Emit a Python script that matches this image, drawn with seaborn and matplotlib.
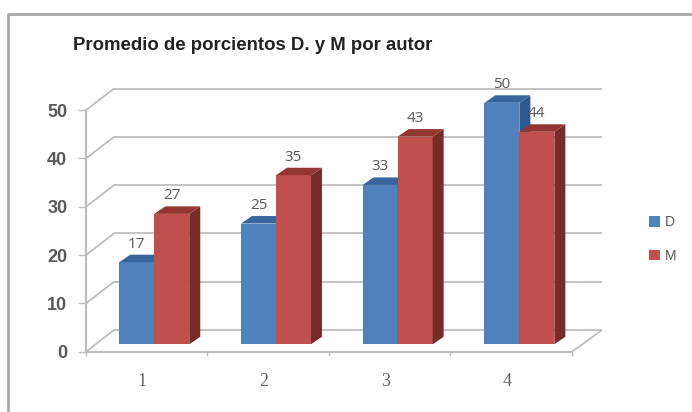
import matplotlib
matplotlib.use("Agg")
import matplotlib.pyplot as plt
import pandas as pd
import seaborn as sns
from matplotlib.lines import Line2D
from matplotlib.patches import Polygon

autores = ["1", "2", "3", "4"]
valoresD = [17, 25, 33, 50]
valoresM = [27, 35, 43, 44]
yTicks = [0, 10, 20, 30, 40, 50]

colorFront = {"D": "#4F81BD", "M": "#C0504D"}
colorSide = {"D": "#2C5A91", "M": "#772C2A"}
colorTop = {"D": "#38659C", "M": "#943634"}
gridColor = "#BDBDBD"

W, H = 692, 412

sns.set_style("white")
plt.rcParams["font.family"] = ["Liberation Sans", "DejaVu Sans"]

df = pd.DataFrame({
    "autor": autores * 2,
    "valor": valoresD + valoresM,
    "serie": ["D"] * 4 + ["M"] * 4
})

fig = plt.figure(figsize=(W / 100, H / 100), dpi=100)
ax = fig.add_axes([86 / W, 1 - 360 / H, (602 - 86) / W, 280 / H])
ax.patch.set_alpha(0)

sns.barplot(data=df, x="autor", y="valor", hue="serie", palette=colorFront, width=0.575,
            gap=0, saturation=1, linewidth=0, ax=ax)

# one category is 121.7 px wide, one value unit 4.83 px high
xLeft, xRight = -0.561, 3.679
ax.set_xlim(xLeft, xRight)
ax.set_ylim(-3.25, 54.72)

frontOff, backOff = -1.53, 2.95
frontRight = 3.432
backLeft = xLeft + 28 / 121.7

# back wall and side wall lines
for v in yTicks:
    ax.plot([backLeft, xRight], [v + backOff, v + backOff], color=gridColor, lw=1.3, zorder=1,
            clip_on=False, solid_capstyle="butt")
    ax.plot([xLeft, backLeft], [v + frontOff, v + backOff], color=gridColor, lw=1.3, zorder=1,
            clip_on=False)
ax.plot([frontRight, xRight], [frontOff, backOff], color=gridColor, lw=1.3, zorder=1)

# fake 3d depth on each bar
depthX, depthY = 11 / 121.7, 7.5 / 4.83
for container, serie, z in zip(ax.containers, ["D", "M"], [3, 4]):
    for bar in container:
        x0, x1 = bar.get_x(), bar.get_x() + bar.get_width()
        h = bar.get_height()
        bar.set_zorder(z)
        ax.add_patch(Polygon([(x1, 0), (x1 + depthX, depthY), (x1 + depthX, h + depthY), (x1, h)],
                             closed=True, fc=colorSide[serie], lw=0, zorder=z))
        ax.add_patch(Polygon([(x0, h), (x0 + depthX, h + depthY), (x1 + depthX, h + depthY), (x1, h)],
                             closed=True, fc=colorTop[serie], lw=0, zorder=z))
    labels = ax.bar_label(container, padding=7.5, fontsize=11, color="#595959", family="Open Sans")
    for label in labels:
        label.set_zorder(6)

for side in ["top", "right"]:
    ax.spines[side].set_visible(False)
for side in ["left", "bottom"]:
    ax.spines[side].set_color(gridColor)
    ax.spines[side].set_linewidth(1.6)
ax.spines["bottom"].set_position(("data", frontOff))
ax.spines["bottom"].set_bounds(xLeft, frontRight)
ax.spines["left"].set_bounds(frontOff, yTicks[-1] + frontOff)

ax.set_yticks([v + frontOff for v in yTicks])
ax.set_yticklabels([str(v) for v in yTicks], fontsize=13, fontweight="bold", color="#595959")
ax.tick_params(axis="y", left=True, length=5.5, width=1, color=gridColor, pad=8)

ax.set_xticks([i - 0.1 for i in range(len(autores))])
ax.set_xticklabels(autores, fontsize=13, color="#666666", family="Liberation Serif")
ax.tick_params(axis="x", bottom=False, length=0, pad=15.5)
ax.set_xticks([xLeft + i * (frontRight - xLeft) / 4 for i in range(5)], minor=True)
ax.tick_params(axis="x", which="minor", bottom=True, length=3, width=1, color=gridColor)

ax.set_xlabel("")
ax.set_ylabel("")

sns.move_legend(ax, "center left", bbox_to_anchor=(636 / W, 1 - 239 / H), bbox_transform=fig.transFigure,
                title=None, frameon=False, fontsize=10, labelcolor="#595959", labelspacing=1.4,
                handlelength=0.8, handleheight=0.75, handletextpad=0.4)

fig.text(253 / W, 1 - 45 / H, "Promedio de porcientos D. y M por autor", fontsize=13.4, fontweight="bold",
         color="#222222", ha="center", va="center")

# outer frame of the original picture
fig.add_artist(Line2D([8 / W, 8 / W, 1], [0, 1 - 14 / H, 1 - 14 / H], color="#A8A8A8", lw=2))

fig.savefig("out.png", dpi=100, facecolor="white")
plt.close()
